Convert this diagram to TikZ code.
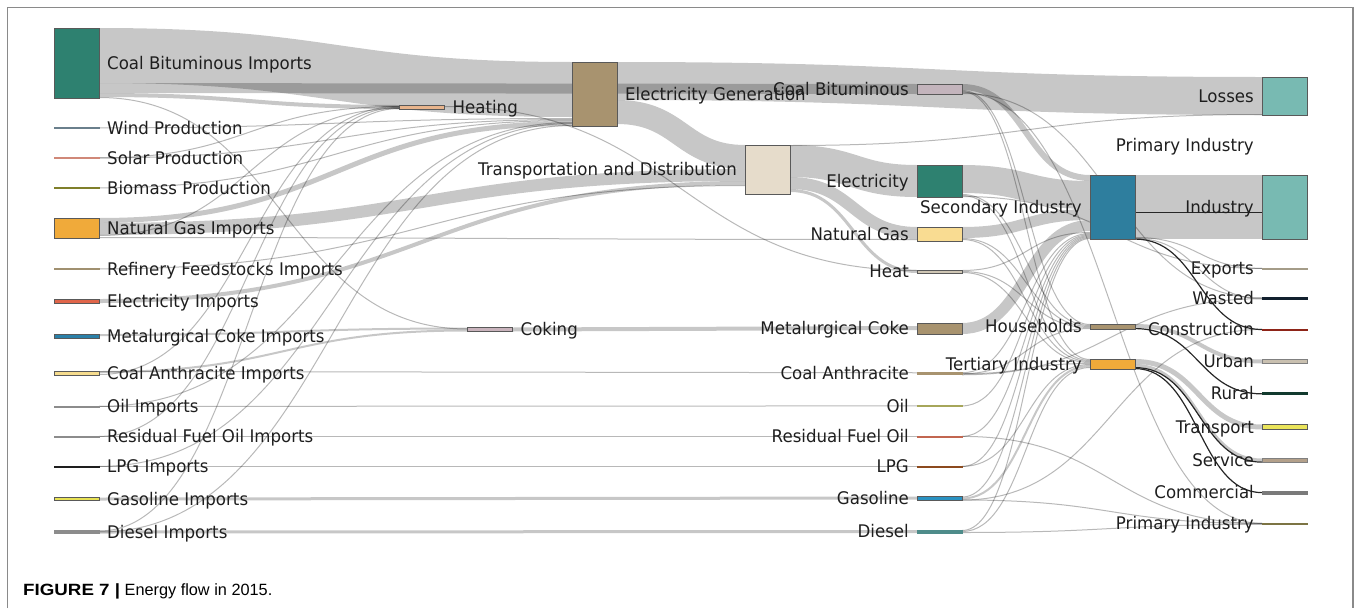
\documentclass[tikz,border=0pt]{standalone}
\usepackage{fontspec}
\setmainfont{DejaVu Sans}[FakeStretch=0.955]
\newfontfamily\capfont{Liberation Sans}
\usetikzlibrary{calc,backgrounds}

%% node colours
\definecolor{cbiC}{HTML}{2E8170}
\definecolor{windC}{HTML}{6A7F8C}
\definecolor{solC}{HTML}{D08878}
\definecolor{bioC}{HTML}{7F7F2A}
\definecolor{ngiC}{HTML}{F0AA3A}
\definecolor{rfsC}{HTML}{A09070}
\definecolor{eliC}{HTML}{E0654A}
\definecolor{mciC}{HTML}{2A80A8}
\definecolor{caiC}{HTML}{F6DC8E}
\definecolor{oiliC}{HTML}{8C8C8C}
\definecolor{lpgiC}{HTML}{1E1E1E}
\definecolor{gasiC}{HTML}{E8E254}
\definecolor{heatingC}{HTML}{E8B48C}
\definecolor{cokC}{HTML}{C9B3BC}
\definecolor{egC}{HTML}{A8936F}
\definecolor{tdC}{HTML}{E6DCCB}
\definecolor{cbC}{HTML}{C3B4BC}
\definecolor{ngC}{HTML}{F9DC92}
\definecolor{heatC}{HTML}{CFC6B4}
\definecolor{oilC}{HTML}{A6A65A}
\definecolor{rfoC}{HTML}{C26650}
\definecolor{lpgC}{HTML}{8C4A1E}
\definecolor{gasC}{HTML}{2A92C2}
\definecolor{dslC}{HTML}{4E8C8A}
\definecolor{siC}{HTML}{2E7E9E}
\definecolor{indC}{HTML}{78BAB2}
\definecolor{expC}{HTML}{A49C88}
\definecolor{wstC}{HTML}{12202E}
\definecolor{conC}{HTML}{8E2418}
\definecolor{urbC}{HTML}{C9C0B0}
\definecolor{rurC}{HTML}{123A2E}
\definecolor{trpC}{HTML}{EAE45A}
\definecolor{srvC}{HTML}{B3A08A}
\definecolor{comC}{HTML}{7A7A7A}
\definecolor{pibC}{HTML}{7C7444}
\definecolor{txt}{HTML}{1E1E1E}
\definecolor{frameC}{HTML}{8A8A8A}

\newcommand\lbl{\fontsize{17.4}{20}\selectfont}

%% a link: source node, offset from its top, target node, offset from its top, width
\newcommand\flow[6][flow]{%
  \path ($(#2.north east)+(0,{#3+#6/2})$) coordinate (fa)
        ($(#4.north west)+(0,{#5+#6/2})$) coordinate (fb)
        ($(fa)!.5!(fb)$) coordinate (fm);
  \draw[#1,line width=#6] (fa) .. controls (fm |- fa) and (fm |- fb) .. (fb);
}
\newcommand\thinflow[4]{\flow[thin]{#1}{#2}{#3}{#4}{1}}

\begin{document}
\begin{tikzpicture}[x=1pt,y=-1pt,
    bar/.style={line width=.8pt,minimum width=45,inner sep=0pt,outer sep=0pt},
    lr/.style={text=txt,font=\lbl,text height=12.7pt,text depth=0pt,inner sep=0pt},
    label distance=8pt,
    flow/.style={draw=black,draw opacity=.22},
    thin/.style={draw=black,draw opacity=.28},
    hot/.style={draw=black!85}]

  \useasboundingbox (0,0) rectangle (1356,608);

  %% Sources (left column)
  \foreach \n/\y/\h/\c/\d/\t in {cbi/63/70/cbiC/black!65/Coal Bituminous Imports,
      wind/128/1.2/windC/windC/Wind Production,
      sol/158/1.2/solC/solC/Solar Production,
      bio/188/1.2/bioC/bioC/Biomass Production,
      ngi/228/20/ngiC/black!65/Natural Gas Imports,
      rfs/269/1.2/rfsC/rfsC/Refinery Feedstocks Imports,
      eli/301/4/eliC/black!65/Electricity Imports,
      mci/336/4/mciC/black!65/Metalurgical Coke Imports,
      cai/373/4/caiC/black!65/Coal Anthracite Imports,
      oili/406.5/1.2/oiliC/oiliC/Oil Imports,
      rfoi/436.5/1.2/oiliC/oiliC/Residual Fuel Oil Imports,
      lpgi/466.5/1.2/lpgiC/lpgiC/LPG Imports,
      gasi/499/3/gasiC/black!65/Gasoline Imports,
      dsli/532/3/oiliC/oiliC/Diesel Imports}{
    \node[bar,fill=\c,draw=\d,minimum height=\h,label={[lr]right:\t}] (\n) at (76.5,\y) {};
  }

  %% Conversion steps
  \node[bar,fill=heatingC,draw=black!65,minimum height=4,label={[lr]right:Heating}] (heating) at (422,107) {};
  \node[bar,fill=cokC,draw=black!65,minimum height=4,label={[lr]right:Coking}] (coking) at (490,329.5) {};
  \node[bar,fill=egC,draw=black!65,minimum height=64,label={[lr]right:Electricity Generation}] (eg) at (594.5,94) {};
  \node[bar,fill=tdC,draw=black!65,minimum height=49,label={[lr]left:Transportation and Distribution}] (td) at (767.5,169.5) {};

  %% Carriers
  \foreach \n/\y/\h/\c/\d/\t in {cb/89/10/cbC/black!65/Coal Bituminous,
      elec/181/32/cbiC/black!65/Electricity,
      ng/234/14/ngC/black!65/Natural Gas,
      heat/271.5/3/heatC/black!65/Heat,
      mc/328.5/11/egC/black!65/Metalurgical Coke,
      ca/373.5/2.5/egC/egC/Coal Anthracite,
      oil/406/1.2/oilC/oilC/Oil,
      rfo/436.5/1.2/rfoC/rfoC/Residual Fuel Oil,
      lpg/466.5/1.2/lpgC/lpgC/LPG,
      gas/498.5/4/gasC/black!65/Gasoline,
      dsl/531.5/3/dslC/dslC/Diesel}{
    \node[bar,fill=\c,draw=\d,minimum height=\h,label={[lr]left:\t}] (\n) at (939.5,\y) {};
  }

  %% Sectors
  \foreach \n/\y/\h/\c/\t in {si/207/64/siC/Secondary Industry,
      hh/326.5/5/egC/Households,
      ti/364/10/ngiC/Tertiary Industry}{
    \node[bar,fill=\c,draw=black!65,minimum height=\h,label={[lr]left:\t}] (\n) at (1112.5,\y) {};
  }

  %% Final uses (right column)
  \foreach \n/\y/\h/\c/\d/\t in {loss/96/38/indC/black!65/Losses,
      pit/145/0/none/none/Primary Industry,
      ind/207/64/indC/black!65/Industry,
      exp/268.5/1.2/expC/expC/Exports,
      wst/298.5/2.5/wstC/wstC/Wasted,
      con/329.5/1.2/conC/conC/Construction,
      urb/361.5/4/urbC/black!50/Urban,
      rur/393.5/2.5/rurC/rurC/Rural,
      trp/427/5/trpC/black!65/Transport,
      srv/460.5/4/srvC/black!50/Service,
      com/492.5/3/comC/comC/Commercial,
      pib/523.5/1.2/pibC/pibC/Primary Industry}{
    \node[bar,fill=\c,draw=\d,minimum height=\h,label={[lr]left:\t}] (\n) at (1284.5,\y) {};
  }

  \begin{pgfonlayer}{background}
    %% imports -> conversion
    \flow{cbi}{0}{eg}{0}{55}
    \flow{cbi}{55}{cb}{0}{10}
    \flow{cbi}{65}{heating}{0}{4}
    \thinflow{cbi}{69}{coking}{1}
    \thinflow{wind}{0}{eg}{56}
    \thinflow{sol}{0}{eg}{57}
    \thinflow{sol}{0}{heating}{1}
    \thinflow{bio}{0}{eg}{58}
    \flow{ngi}{0}{eg}{59}{5}
    \flow{ngi}{5}{td}{24}{12}
    \thinflow{ngi}{17}{heating}{3}
    \thinflow{ngi}{19}{ng}{12}
    \thinflow{rfs}{0}{td}{40}
    \flow{eli}{0}{td}{36}{4}
    \flow{mci}{0}{coking}{0}{2}
    \flow{cai}{0}{coking}{2}{2}
    \thinflow{cai}{3}{heating}{1}
    \thinflow{oili}{0}{eg}{60}
    \thinflow{rfoi}{0}{heating}{2}
    \thinflow{lpgi}{0}{eg}{61}
    \thinflow{dsli}{0}{heating}{3}
    \thinflow{dsli}{1}{eg}{63}
    %% imports straight through
    \foreach \a/\b in {cai/ca,oili/oil,rfoi/rfo,lpgi/lpg}{
      \thinflow{\a}{0}{\b}{0}
    }
    \flow{gasi}{0}{gas}{0}{3}
    \flow{dsli}{0}{dsl}{0}{3}

    %% conversion -> carriers
    \flow{coking}{0}{mc}{3}{4}
    \thinflow{heating}{1}{heat}{0}
    \flow{eg}{0}{loss}{0}{38}
    \flow{eg}{38}{td}{0}{24}
    \thinflow{td}{0}{loss}{37}
    \flow{td}{0}{elec}{0}{32}
    \flow{td}{32}{ng}{0}{12}
    \flow{td}{44}{heat}{0}{3}

    %% carriers -> sectors
    \flow{cb}{0}{si}{0}{6}
    \thinflow{cb}{6}{hh}{0}
    \thinflow{cb}{7}{ti}{0}
    \thinflow{cb}{8}{pib}{0}
    \thinflow{cb}{9}{wst}{0}
    \flow{elec}{0}{si}{6}{28}
    \thinflow{elec}{29}{hh}{1}
    \thinflow{elec}{30}{ti}{1}
    \thinflow{elec}{31}{exp}{0}
    \flow{ng}{0}{si}{34}{11}
    \thinflow{ng}{11}{hh}{2}
    \thinflow{ng}{12}{ti}{2}
    \thinflow{heat}{0}{si}{57}
    \thinflow{heat}{1}{hh}{3}
    \thinflow{heat}{2}{ti}{3}
    \flow{mc}{0}{si}{45}{11}
    \thinflow{ca}{0}{si}{58}
    \thinflow{ca}{1}{hh}{4}
    \thinflow{ca}{1}{ti}{4}
    \thinflow{ca}{2}{wst}{1}
    \thinflow{oil}{0}{si}{59}
    \thinflow{rfo}{0}{si}{60}
    \thinflow{rfo}{0}{pib}{0}
    \thinflow{lpg}{0}{si}{61}
    \thinflow{lpg}{0}{ti}{5}
    \thinflow{gas}{0}{si}{62}
    \flow{gas}{1}{ti}{6}{2}
    \thinflow{gas}{3}{pib}{0}
    \thinflow{gas}{3}{con}{0}
    \thinflow{dsl}{0}{si}{63}
    \thinflow{dsl}{1}{ti}{8}
    \thinflow{dsl}{2}{pib}{1}

    %% sectors -> final uses
    \flow{si}{0}{ind}{0}{64}
    \flow[hot]{si}{37}{ind}{37}{1.2}
    \thinflow{si}{62}{exp}{0}
    \thinflow{si}{63}{wst}{1}
    \flow[hot]{si}{63.5}{con}{0}{1.2}
    \flow{hh}{0}{urb}{0}{4}
    \flow[hot]{hh}{4}{rur}{1}{1.2}
    \flow{ti}{0}{trp}{0}{5}
    \flow{ti}{5}{srv}{0}{3}
    \flow[hot]{ti}{8}{srv}{3}{1.2}
    \flow[hot]{ti}{9}{com}{1}{1.2}
  \end{pgfonlayer}

  %% frame and caption
  \draw[frameC,line width=1.2] (7.5,608) |- (1353,7.5) -- (1353,608);
  \node[anchor=base west,inner sep=0pt,text=black,font=\capfont\fontsize{16.3}{18}\selectfont] (cap) at (23,595)
    {\scalebox{1.15}[1]{\bfseries FIGURE 7 |} Energy flow in 2015.};
\end{tikzpicture}
\end{document}
